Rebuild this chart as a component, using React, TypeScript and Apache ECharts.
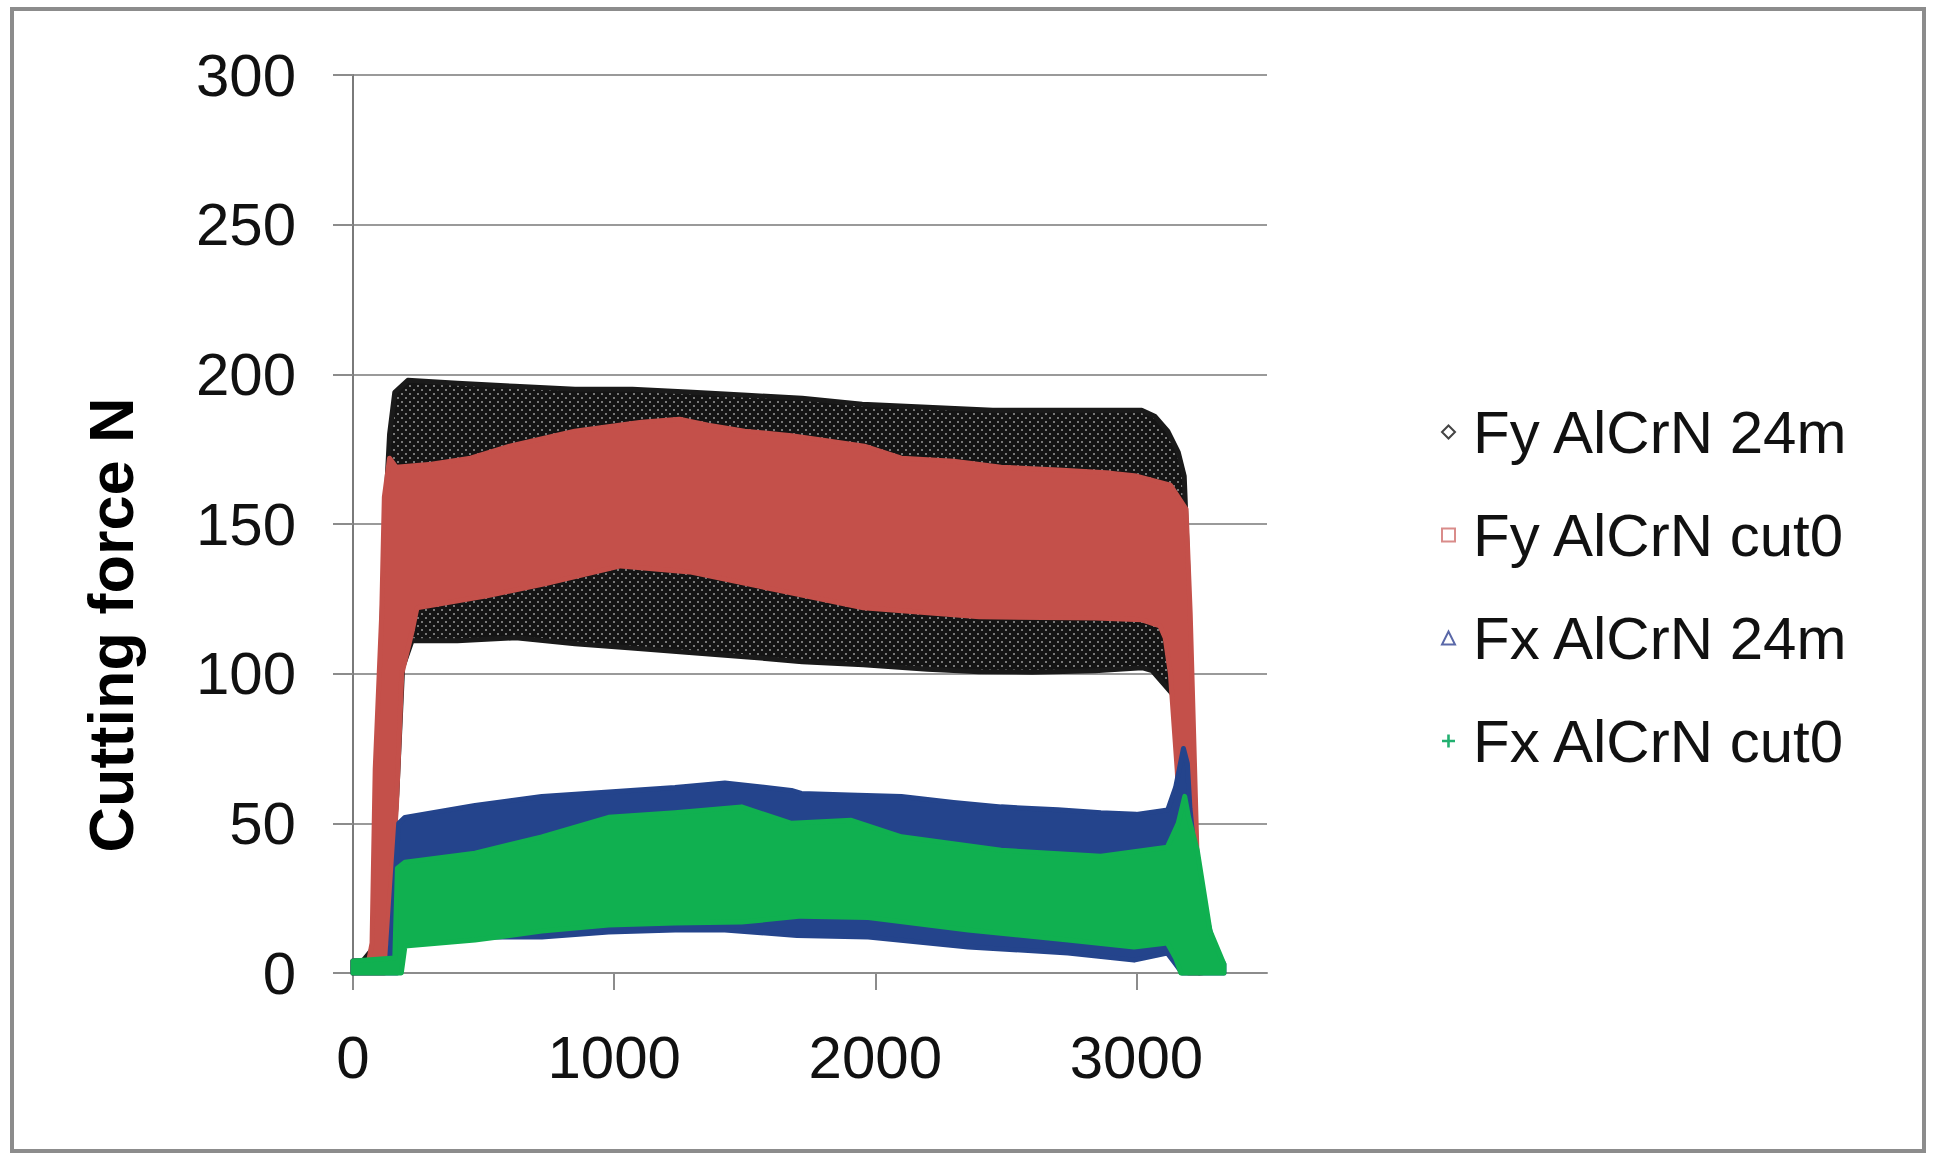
import React, { useEffect, useRef } from "react";
import * as echarts from "echarts";

const SERIES_NAMES = ["Fy AlCrN 24m", "Fy AlCrN cut0", "Fx AlCrN 24m", "Fx AlCrN cut0"];
const X_TICKS = [0, 1000, 2000, 3000];
const Y_MIN = 0;
const Y_MAX = 300;
const Y_STEP = 50;

// Fy AlCrN 24m : upper and lower envelope of the oscillating signal
const fy24UpX = [0, 60, 75, 110, 125, 140, 160, 210, 400, 620, 850, 1070, 1300, 1510, 1720, 1950, 2200, 2450, 2700, 2900, 3020, 3070, 3120, 3160, 3183, 3195, 3205, 3215, 3230, 3240];
const fy24Up = [4, 4, 4, 115, 155, 180, 194, 198, 197, 196, 195, 195, 194, 193, 192, 190, 189, 188, 188, 188, 188, 186, 181, 174, 166, 140, 110, 70, 20, 4];
const fy24LowX = [0, 130, 168, 190, 226, 240, 400, 623, 850, 1067, 1300, 1511, 1720, 1954, 2200, 2398, 2600, 2841, 3021, 3060, 3100, 3150, 3175, 3200, 3240];
const fy24Low = [0, 14, 60, 102, 111, 111, 111, 112, 110, 108.6, 107, 105.6, 104, 103, 101.5, 100.6, 100.5, 101, 102, 101, 97, 92, 60, 10, 0];

// Fy AlCrN cut0
const fy0UpX = [0, 60, 73, 85, 110, 120, 140, 165, 300, 450, 600, 849, 1105, 1250, 1360, 1500, 1679, 1800, 1958, 2100, 2300, 2482, 2700, 2900, 3000, 3130, 3190, 3206, 3219, 3235, 3250];
const fy0Up = [4, 4, 10, 68, 120, 159, 172, 169, 170, 172, 176, 181, 184, 185, 183, 181, 179.5, 178, 176, 172, 171, 169, 168, 167, 166, 163, 155, 120, 80, 30, 4];
const fy0LowX = [0, 120, 128, 166, 187, 226, 245, 513, 734, 1025, 1289, 1621, 1954, 2398, 2841, 3021, 3090, 3110, 3130, 3156, 3180, 3200, 3250];
const fy0Low = [0, 0, 10, 55, 100, 114, 122, 126, 130, 136, 134, 128, 122, 119, 118.6, 118, 116, 112, 100, 68, 30, 0, 0];

// Fx AlCrN 24m
const fx24UpX = [0, 140, 175, 199, 467, 723, 979, 1233, 1424, 1679, 1717, 1900, 2100, 2300, 2482, 2700, 2864, 3000, 3120, 3150, 3180, 3195, 3205, 3220, 3245, 3270, 3300, 3335];
const fx24Up = [4, 4, 50, 52, 56, 59, 60.5, 62, 63.5, 61, 60, 59.5, 59, 57, 55.5, 54.5, 53.5, 53, 54.5, 62, 75, 70, 55, 42, 30, 18, 8, 3];
const fx24LowX = [0, 170, 199, 467, 723, 979, 1233, 1424, 1700, 1973, 2356, 2738, 2991, 3118, 3150, 3175, 3335];
const fx24Low = [0, 0, 10, 12, 12, 13.7, 14.4, 14.4, 12.5, 12, 8.7, 6.7, 4.3, 6.7, 3, 0, 0];

// Fx AlCrN cut0
const fx0UpX = [0, 160, 170, 199, 467, 723, 979, 1233, 1488, 1679, 1908, 2100, 2482, 2864, 3118, 3160, 3185, 3200, 3233, 3282, 3335];
const fx0Up = [4, 5, 35, 37, 40, 45.5, 52, 53.5, 55.5, 50, 51, 45.5, 41, 39, 42, 50, 59, 52, 41, 14, 3];
const fx0LowX = [0, 185, 199, 467, 723, 979, 1233, 1488, 1717, 1973, 2356, 2738, 2991, 3118, 3150, 3170, 3335];
const fx0Low = [0, 0, 9, 11, 14, 16, 16.7, 17, 19, 18.5, 14.4, 11, 8.7, 10, 5, 0, 0];

const FONT = "'Liberation Sans', Arial, sans-serif";

function makeDotPattern(): any {
  const c = document.createElement("canvas");
  c.width = 8;
  c.height = 8;
  const ctx = c.getContext("2d");
  if (!ctx) return "#1a1a1a";
  ctx.fillStyle = "#141414";
  ctx.fillRect(0, 0, 8, 8);
  ctx.fillStyle = "#9a9a9a";
  ctx.beginPath();
  ctx.arc(2, 2, 1.0, 0, Math.PI * 2);
  ctx.fill();
  ctx.beginPath();
  ctx.arc(6, 6, 1.0, 0, Math.PI * 2);
  ctx.fill();
  return { image: c, repeat: "repeat", imageWidth: 8, imageHeight: 8 };
}

function bandSeries(name: string, upX: number[], up: number[], lowX: number[], low: number[], fill: any, edge: string) {
  return {
    type: "custom",
    name,
    coordinateSystem: "cartesian2d",
    clip: false,
    data: [[upX[0], up[0]]],
    encode: { x: 0, y: 1 },
    renderItem: (_params: any, api: any) => {
      const pts: number[][] = [];
      for (let i = 0; i < upX.length; i++) pts.push(api.coord([upX[i], up[i]]));
      for (let i = lowX.length - 1; i >= 0; i--) pts.push(api.coord([lowX[i], low[i]]));
      return {
        type: "polygon",
        shape: { points: pts },
        style: { fill, stroke: edge, lineWidth: 5, lineJoin: "round" },
      };
    },
  };
}

export default function App() {
  const ref = useRef<HTMLDivElement>(null);
  useEffect(() => {
    if (!ref.current) return;
    const chart = echarts.init(ref.current, undefined, { renderer: "svg" });
    const blackFill = makeDotPattern();
    const option: any = {
      animation: false,
      backgroundColor: "#ffffff",
      grid: { left: 353, top: 75, width: 914, height: 898, containLabel: false, outerBoundsMode: "none" },
      xAxis: {
        type: "value",
        min: 0,
        max: 3500,
        axisLine: { show: true, lineStyle: { color: "#8c8c8c", width: 2 } },
        axisTick: { show: true, length: 17, lineStyle: { color: "#8c8c8c", width: 2 }, customValues: X_TICKS },
        axisLabel: {
          customValues: X_TICKS,
          formatter: (v: number) => String(v),
          margin: 54,
          fontSize: 60,
          color: "#111",
          fontFamily: FONT,
        },
        splitLine: { show: false },
      },
      yAxis: {
        type: "value",
        min: Y_MIN,
        max: Y_MAX,
        interval: Y_STEP,
        axisLine: { show: true, lineStyle: { color: "#7a7a7a", width: 2 } },
        axisTick: { show: true, length: 20, lineStyle: { color: "#8c8c8c", width: 2 } },
        axisLabel: { margin: 57, fontSize: 60, color: "#111", fontFamily: FONT },
        splitLine: { show: true, lineStyle: { color: "#9a9a9a", width: 2 } },
      },
      legend: {
        orient: "vertical",
        left: 1436,
        top: 397,
        itemWidth: 13,
        itemHeight: 13,
        itemGap: 43,
        textStyle: { fontSize: 60, lineHeight: 60, color: "#111", fontFamily: FONT, padding: [0, 0, 0, 13] },
        data: [
          { name: SERIES_NAMES[0], icon: "diamond", itemStyle: { color: "#ffffff", borderColor: "#444", borderWidth: 2 } },
          { name: SERIES_NAMES[1], icon: "rect", itemStyle: { color: "#ffffff", borderColor: "#d98c8a", borderWidth: 2 } },
          { name: SERIES_NAMES[2], icon: "triangle", itemStyle: { color: "#ffffff", borderColor: "#5a68a8", borderWidth: 2 } },
          { name: SERIES_NAMES[3], icon: "path://M4,0H6V4H10V6H6V10H4V6H0V4H4Z", itemStyle: { color: "#22b070", borderWidth: 0 } },
        ],
      },
      graphic: [
        {
          type: "text",
          x: 111,
          y: 625,
          rotation: Math.PI / 2,
          style: {
            text: "Cutting force N",
            font: `bold 63px ${FONT}`,
            fill: "#000",
            textAlign: "center",
            textVerticalAlign: "middle",
          },
        },
        {
          type: "rect",
          shape: { x: 12, y: 9, width: 1912, height: 1142 },
          style: { fill: "none", stroke: "#8c8c8c", lineWidth: 4 },
          silent: true,
        },
      ],
      series: [
        bandSeries(SERIES_NAMES[0], fy24UpX, fy24Up, fy24LowX, fy24Low, blackFill, "#1a1a1a"),
        bandSeries(SERIES_NAMES[1], fy0UpX, fy0Up, fy0LowX, fy0Low, "#c4504a", "#c4504a"),
        bandSeries(SERIES_NAMES[2], fx24UpX, fx24Up, fx24LowX, fx24Low, "#24448c", "#24448c"),
        bandSeries(SERIES_NAMES[3], fx0UpX, fx0Up, fx0LowX, fx0Low, "#10b050", "#10b050"),
      ],
    };
    chart.setOption(option);
    return () => chart.dispose();
  }, []);
  return <div ref={ref} style={{ position: "fixed", left: 0, top: 0, width: 1933, height: 1158 }} />;
}
